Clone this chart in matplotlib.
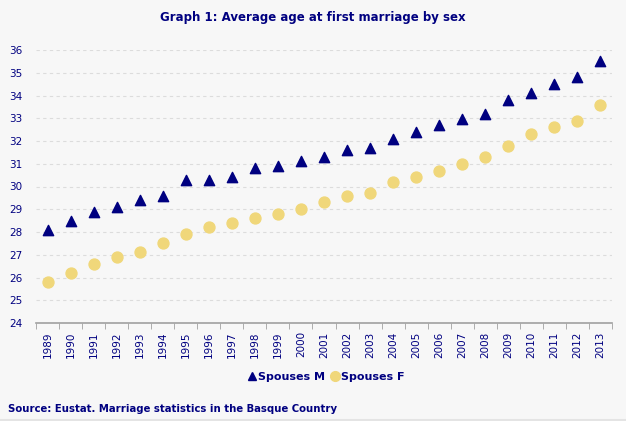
import numpy as np
import matplotlib.pyplot as plt
from matplotlib.lines import Line2D

years = [str(y) for y in range(1989, 2014)]
spouses_m = [28.1, 28.5, 28.9, 29.1, 29.4, 29.6, 30.3, 30.3, 30.4, 30.8, 30.9, 31.1, 31.3,
             31.6, 31.7, 32.1, 32.4, 32.7, 32.95, 33.2, 33.8, 34.1, 34.5, 34.8, 35.5]
spouses_f = [25.8, 26.2, 26.6, 26.9, 27.1, 27.5, 27.9, 28.2, 28.4, 28.6, 28.8, 29.0, 29.3,
             29.6, 29.7, 30.2, 30.4, 30.7, 31.0, 31.3, 31.8, 32.3, 32.6, 32.9, 33.6]

navy = "#000080"
gold = "#f0d77a"
bg = "#f7f7f7"

fig = plt.figure(figsize=(6.26, 4.21), dpi=100, facecolor=bg)
ax = fig.add_axes([36 / 626, 98 / 421, 576 / 626, 273 / 421], facecolor=bg)

x = np.arange(len(years))
ax.scatter(x, spouses_f, s=62, marker="o", color=gold, zorder=3)
ax.scatter(x, spouses_m, s=55, marker="^", color=navy, zorder=4)

ax.set_xlim(-0.5, len(years) - 0.5)
ax.set_ylim(24, 36)
ax.set_yticks(range(24, 37))
ax.set_xticks(x)
ax.set_xticklabels(years, rotation=90)
ax.set_xticks(np.arange(-0.5, len(years)), minor=True)
ax.tick_params(axis="x", which="major", length=0, pad=6, labelsize=7.5, labelcolor=navy)
ax.tick_params(axis="x", which="minor", length=4, color="#a0a0a0")
ax.tick_params(axis="y", length=0, pad=10, labelsize=7.5, labelcolor=navy)

for v in range(25, 37):
    ax.axhline(v, color="#dcdcdc", lw=0.8, ls=(0, (3, 3)), zorder=1)

for side in ["top", "right", "left"]:
    ax.spines[side].set_visible(False)
ax.spines["bottom"].set_color("#a0a0a0")
ax.spines["bottom"].set_linewidth(1.2)

fig.text(0.5, 1 - 17 / 421, "Graph 1: Average age at first marriage by sex", ha="center",
         va="center", color=navy, fontsize=8.5, fontweight="bold")

handles = [Line2D([], [], ls="", marker="^", color=navy, markersize=6),
           Line2D([], [], ls="", marker="o", color=gold, markersize=7)]
fig.legend(handles, ["Spouses M", "Spouses F"], loc="center", bbox_to_anchor=(0.52, 1 - 377 / 421),
           ncol=2, frameon=False, handletextpad=0.05, columnspacing=0.45, handlelength=1,
           prop={"size": 8, "weight": "bold"}, labelcolor=navy)

fig.text(8 / 626, 1 - 409 / 421, "Source: Eustat. Marriage statistics in the Basque Country",
         ha="left", va="center", color=navy, fontsize=7.25, fontweight="bold")

fig.add_artist(Line2D([0, 1], [1.5 / 421, 1.5 / 421], color="#e4e4e4", lw=1.5))

fig.savefig("out.png", dpi=100, facecolor=bg)
